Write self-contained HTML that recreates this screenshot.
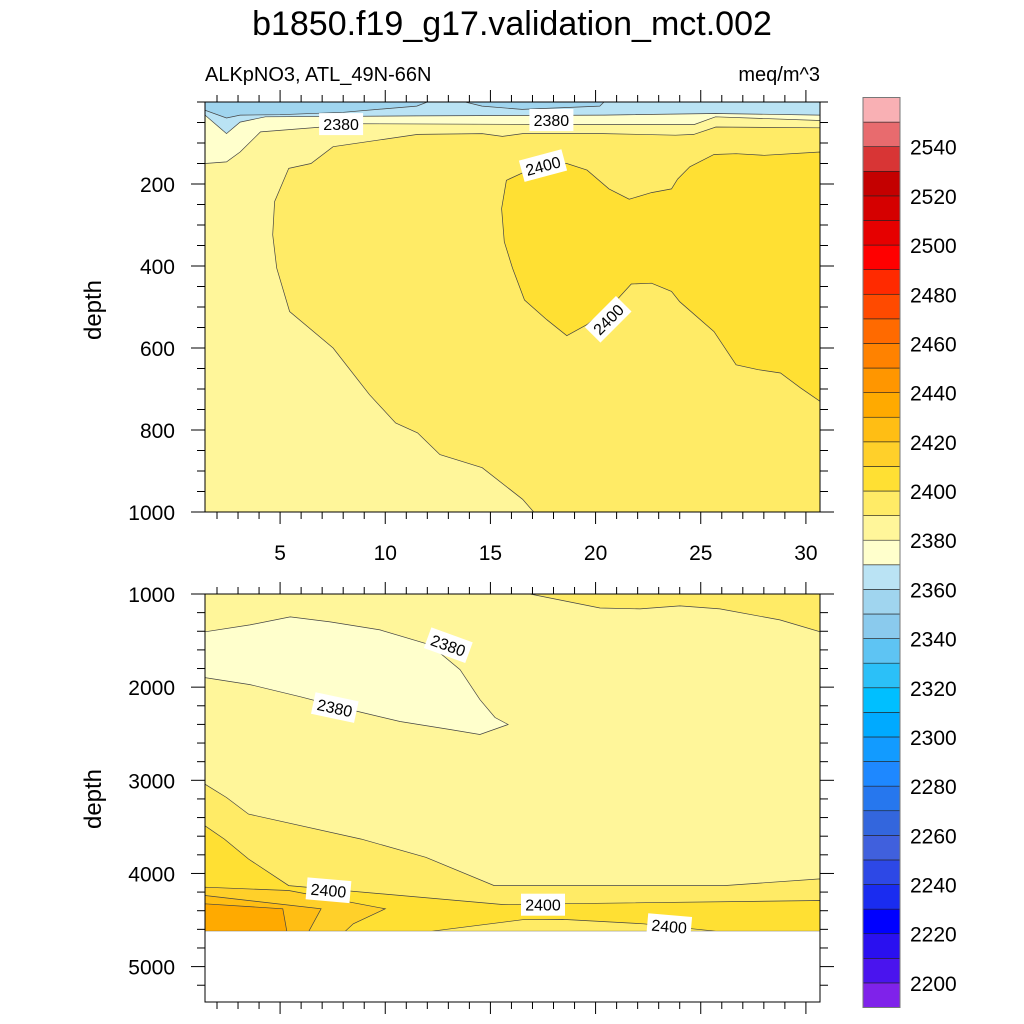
<!DOCTYPE html>
<html><head><meta charset="utf-8"><style>
body{margin:0;background:#fff;}
svg{display:block;font-family:"Liberation Sans",sans-serif;}
</style></head><body>
<svg id="chart" width="1024" height="1024" viewBox="0 0 1024 1024" xmlns="http://www.w3.org/2000/svg">
<text x="512" y="35" text-anchor="middle" font-size="34">b1850.f19_g17.validation_mct.002</text>
<text x="205" y="81" font-size="20">ALKpNO3, ATL_49N-66N</text>
<text x="820" y="81" text-anchor="end" font-size="20">meq/m^3</text>
<text transform="translate(101,310) rotate(-90)" text-anchor="middle" font-size="24">depth</text>
<text transform="translate(101,799) rotate(-90)" text-anchor="middle" font-size="24">depth</text>
<defs>
<clipPath id="clipTop"><rect x="205" y="102" width="615" height="410"/></clipPath>
<clipPath id="clipBot"><rect x="205" y="594" width="615" height="408"/></clipPath>
</defs>
<g id="topPanel"></g>
<g id="botPanel"></g>
<g id="colorbar"></g>
</svg>
<script>
// ---- data ----
const xDomain = [1.43, 30.67];
const topDepthDomain = [0, 1000];
const botDepthDomain = [1000, 5380];
const xTicks = [5, 10, 15, 20, 25, 30];
const topYTicks = [200, 400, 600, 800, 1000];
const botYTicks = [1000, 2000, 3000, 4000, 5000];
const cbLevels = [2190,2200,2210,2220,2230,2240,2250,2260,2270,2280,2290,2300,2310,2320,2330,2340,2350,2360,2370,2380,2390,2400,2410,2420,2430,2440,2450,2460,2470,2480,2490,2500,2510,2520,2530,2540,2550,2560];
const cbColors = ["#7f22ea","#4a14ee","#2a10f0","#0000ff","#1a2cf0","#2d48e6","#4060dd","#3366dd","#2677ee","#1e88ff","#129bff","#00aaff","#00bfff","#2bc0f8","#5ec4f3","#8acaed","#a0d5ef","#bae3f4","#ffffcc","#fff69a","#ffeb66","#ffe033","#ffd02a","#ffbe14","#ffaa00","#ff9600","#ff8200","#ff6a00","#ff4a00","#ff2a00","#ff0000","#e60000","#d50000","#c40000","#d83535","#e86b6e","#f9b0b4"];
const cbLabels = [2200,2220,2240,2260,2280,2300,2320,2340,2360,2380,2400,2420,2440,2460,2480,2500,2520,2540];

// top panel filled contour regions: [x, depth]
const topBase = "#fff69a";
const top2390 = [[5.41,162],[6.47,150],[7.52,109],[11.54,79],[14.61,77],[15.57,84],[16.53,77],[20.36,77],[23.8,81],[24.67,79],[25.72,61],[30.67,63],[30.67,1000],[17.06,1000],[16.53,969],[14.61,892],[12.6,860],[11.54,807],[10.49,783],[9.25,714],[7.52,600],[5.45,511],[4.84,405],[4.65,324],[4.74,243]];
const top2400 = [[15.76,191],[17.58,148],[18.63,150],[19.59,166],[20.64,212],[21.6,237],[22.66,221],[23.61,212],[23.9,188],[24.48,158],[25.63,128],[26.68,126],[28.02,130],[30.67,122],[30.67,730],[29.74,697],[28.79,661],[27.73,653],[26.68,641],[25.63,560],[24.0,487],[23.61,462],[22.66,442],[21.7,444],[20.93,487],[19.59,543],[18.63,570],[17.68,531],[16.62,483],[16.05,405],[15.66,341],[15.53,260]];
const top2370 = [[1.43,0],[30.67,0],[30.67,45],[25.7,36],[24.7,55],[18.4,55],[8.5,53],[7,61],[4.07,73],[3.1,122],[2.45,146],[1.43,150]];
const top2360 = [[1.43,0],[30.67,0],[30.67,32],[25.7,28],[20.4,32],[11.5,34],[4.3,36],[3.1,49],[2.45,77],[1.43,32]];
const top2350a = [[1.43,0],[1.43,20],[2.45,39],[3.1,32],[5,31],[8,25],[11.5,10],[12,0]];
const top2350b = [[13.8,0],[14.6,10],[16.5,18],[20.2,10],[20.4,0]];
const topLabels = [["2380",7.9,54,0],["2380",17.9,44,0],["2400",17.5,155,-15],["2400",20.6,530,-45]];

// bottom panel regions
const botBase = "#fff69a";
const bot2370 = [[1.43,1406],[3.57,1332],[5.48,1246],[7.38,1300],[9.75,1385],[12.13,1545],[13.56,1813],[14.5,2134],[15.22,2326],[15.84,2401],[14.5,2508],[13.08,2455],[10.7,2369],[8.33,2241],[5.95,2102],[3.57,1973],[1.43,1898]];
const bot2390top = [[16.88,1000],[18.31,1064],[20.21,1150],[22.11,1160],[24.01,1128],[25.91,1160],[28.76,1278],[30.67,1406],[30.67,1000]];
const bot2390 = [[1.43,3042],[2.45,3185],[3.5,3363],[8.86,3631],[11.93,3827],[15.18,4130],[26.1,4130],[30.67,4058],[30.67,4620],[1.43,4620]];
const bot2400 = [[1.43,3488],[2.35,3631],[3.5,3845],[5.41,4130],[15.57,4333],[30.67,4290],[30.67,4620],[25.72,4620],[22.27,4540],[18.44,4493],[16.53,4497],[12.22,4620],[1.43,4620]];
const bot2410 = [[1.43,4148],[5.41,4183],[10.0,4379],[8.48,4540],[8.1,4620],[1.43,4620]];
const bot2420 = [[1.43,4237],[6.95,4379],[6.37,4620],[1.43,4620]];
const bot2430 = [[1.43,4326],[5.13,4379],[5.32,4620],[1.43,4620]];
const botDataBottom = 4620;
const botLabels = [["2380",13.0,1550,20],["2380",7.6,2220,12],["2400",7.3,4180,5],["2400",17.5,4335,0],["2400",23.5,4565,5]];

// ---- helpers ----
const NS = "http://www.w3.org/2000/svg";
const PL = 205, PR = 820;
function sx(x){ return PL + (x - xDomain[0]) / (xDomain[1] - xDomain[0]) * (PR - PL); }
function syTop(d){ return 102 + (d - topDepthDomain[0]) / (topDepthDomain[1] - topDepthDomain[0]) * 410; }
function syBot(d){ return 594 + (d - botDepthDomain[0]) / (botDepthDomain[1] - botDepthDomain[0]) * 408; }
function mk(tag, attrs, parent){ const e = document.createElementNS(NS, tag); for (const k in attrs) e.setAttribute(k, attrs[k]); parent.appendChild(e); return e; }
function poly(parent, pts, fy, fill, name){
  const e = mk('polygon', {points: pts.map(p => sx(p[0]).toFixed(1) + ',' + fy(p[1]).toFixed(1)).join(' '), fill: fill, stroke: '#444', 'stroke-width': 0.7}, parent);
  
  
}
function label(parent, l, fy){
  const g = mk('g', {transform: 'translate(' + sx(l[1]).toFixed(1) + ',' + fy(l[2]).toFixed(1) + ') rotate(' + l[3] + ')'}, parent);
  
  
  mk('rect', {x: -22, y: -11, width: 44, height: 22, fill: '#fff'}, g);
  const t = mk('text', {x: 0, y: 6, 'text-anchor': 'middle', 'font-size': 16}, g);
  t.textContent = l[0];
}
function axes(parent, fy, yTicks, yMinorStep, yDom, top, bottom, xLabels){
  const ax = mk('g', {}, parent);
  
  
  mk('rect', {x: PL, y: top, width: PR - PL, height: bottom - top, fill: 'none', stroke: '#000', 'stroke-width': 1}, ax);
  for (let x = 2; x <= 30; x++) {
    const major = x % 5 === 0, len = major ? 12 : 7, X = sx(x);
    mk('line', {x1: X, x2: X, y1: bottom, y2: bottom + len, stroke: '#000'}, ax);
    mk('line', {x1: X, x2: X, y1: top, y2: top - len, stroke: '#000'}, ax);
  }
  if (xLabels) xTicks.forEach(v => {
    const t = mk('text', {x: sx(v), y: bottom + 48, 'text-anchor': 'middle', 'font-size': 21}, ax);
    
    
    t.textContent = v;
  });
  for (let d = yDom[0]; d <= yDom[1] + 0.1; d += yMinorStep) {
    const Y = fy(d); if (Y < top - 0.5 || Y > bottom + 0.5) continue;
    const major = yTicks.includes(d), len = major ? 14 : 8;
    mk('line', {x1: PL, x2: PL - len, y1: Y, y2: Y, stroke: '#000'}, ax);
    mk('line', {x1: PR, x2: PR + len, y1: Y, y2: Y, stroke: '#000'}, ax);
  }
  yTicks.forEach(v => {
    const t = mk('text', {x: 175, y: fy(v) + 8, 'text-anchor': 'end', 'font-size': 21}, ax);
    
    
    t.textContent = v;
  });
}

// ---- top panel ----
const tp = document.getElementById('topPanel');
const tg = mk('g', {'clip-path': 'url(#clipTop)'}, tp);
const tb = mk('rect', {x: PL, y: 102, width: PR - PL, height: 410, fill: topBase}, tg);


poly(tg, top2390, syTop, '#ffeb66', 'region-2390');
poly(tg, top2400, syTop, '#ffe033', 'region-2400');
poly(tg, top2370, syTop, '#ffffcc', 'region-2370');
poly(tg, top2360, syTop, '#bae3f4', 'region-2360');
poly(tg, top2350a, syTop, '#a0d5ef', 'region-2350-a');
poly(tg, top2350b, syTop, '#a0d5ef', 'region-2350-b');
topLabels.forEach(l => label(tg, l, syTop));
axes(tp, syTop, topYTicks, 50, topDepthDomain, 102, 512, true);

// ---- bottom panel ----
const bp = document.getElementById('botPanel');
const bg = mk('g', {'clip-path': 'url(#clipBot)'}, bp);
const bb = mk('rect', {x: PL, y: 594, width: PR - PL, height: syBot(botDataBottom) - 594, fill: botBase}, bg);


poly(bg, bot2370, syBot, '#ffffcc', 'region-2370');
poly(bg, bot2390top, syBot, '#ffeb66', 'region-2390-top');
poly(bg, bot2390, syBot, '#ffeb66', 'region-2390');
poly(bg, bot2400, syBot, '#ffe033', 'region-2400');
poly(bg, bot2410, syBot, '#ffd02a', 'region-2410');
poly(bg, bot2420, syBot, '#ffbe14', 'region-2420');
poly(bg, bot2430, syBot, '#ffaa00', 'region-2430');
mk('rect', {x: PL, y: syBot(botDataBottom), width: PR - PL, height: 1002 - syBot(botDataBottom), fill: '#fff'}, bg);
botLabels.forEach(l => label(bg, l, syBot));
axes(bp, syBot, botYTicks, 200, botDepthDomain, 594, 1002, false);

// ---- colorbar ----
const cb = document.getElementById('colorbar');
const cbTop = 97.5, cbBot = 1007.5, cbX = 863, cbW = 37;
function cy(v){ return cbBot - (v - cbLevels[0]) / (cbLevels[cbLevels.length - 1] - cbLevels[0]) * (cbBot - cbTop); }
cbColors.forEach((c, i) => {
  const r = mk('rect', {x: cbX, y: cy(cbLevels[i + 1]), width: cbW, height: cy(cbLevels[i]) - cy(cbLevels[i + 1]), fill: c, stroke: '#222', 'stroke-width': 0.6}, cb);
  
  
});
mk('rect', {x: cbX, y: cbTop, width: cbW, height: cbBot - cbTop, fill: 'none', stroke: '#777', 'stroke-width': 1}, cb);
cbLabels.forEach(v => {
  const t = mk('text', {x: 910, y: cy(v) + 8, 'font-size': 21}, cb);
  
  
  t.textContent = v;
});
</script>
</body></html>
